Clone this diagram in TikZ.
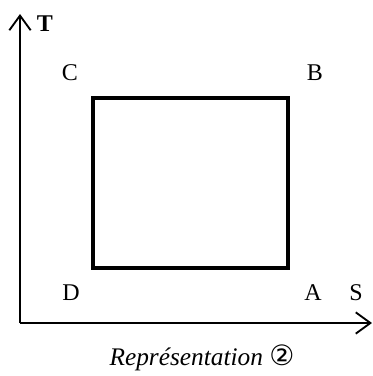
\documentclass[tikz,border=0pt]{standalone}
\usepackage{fontspec}
\setmainfont{Liberation Serif}
\newfontfamily\symfont{DejaVu Sans}
\usetikzlibrary{arrows.meta,positioning,calc}

\begin{document}
\begin{tikzpicture}[
  x=0.75pt,y=-0.75pt,
  every node/.style={font=\fontsize{18}{20}\selectfont},
  axis/.style={line width=1.5pt,-{Straight Barb[length=11pt,width=16pt,line width=1.4pt]}},
  cycle/.style={line width=2.3pt,line join=miter}
]
\useasboundingbox (0,0) rectangle (373,376);
% axes
\coordinate (O) at (20,323);
\coordinate (Tend) at (20,14);
\coordinate (Send) at (372,323);
\draw[axis] (O)--(Tend);
\draw[axis] (O)--(Send);
\node (T) at (45,24) {\textbf{T}};
\node (S) at (356,293) {S};
% cycle
\coordinate (ptA) at (288,268);
\coordinate (ptB) at (288,98);
\coordinate (ptC) at (93,98);
\coordinate (ptD) at (93,268);
\draw[cycle] (ptA)--(ptB)--(ptC)--(ptD)--cycle;
\node (A) at (313,293) {A};
\node (B) at (315,73) {B};
\node (C) at (70,73) {C};
\node (D) at (71,293) {D};
\node[font=\fontsize{19}{21}\selectfont] (cap) at (202,358) {\textit{Représentation} {\symfont\fontsize{21}{21}\selectfont ②}};
\end{tikzpicture}
\end{document}
